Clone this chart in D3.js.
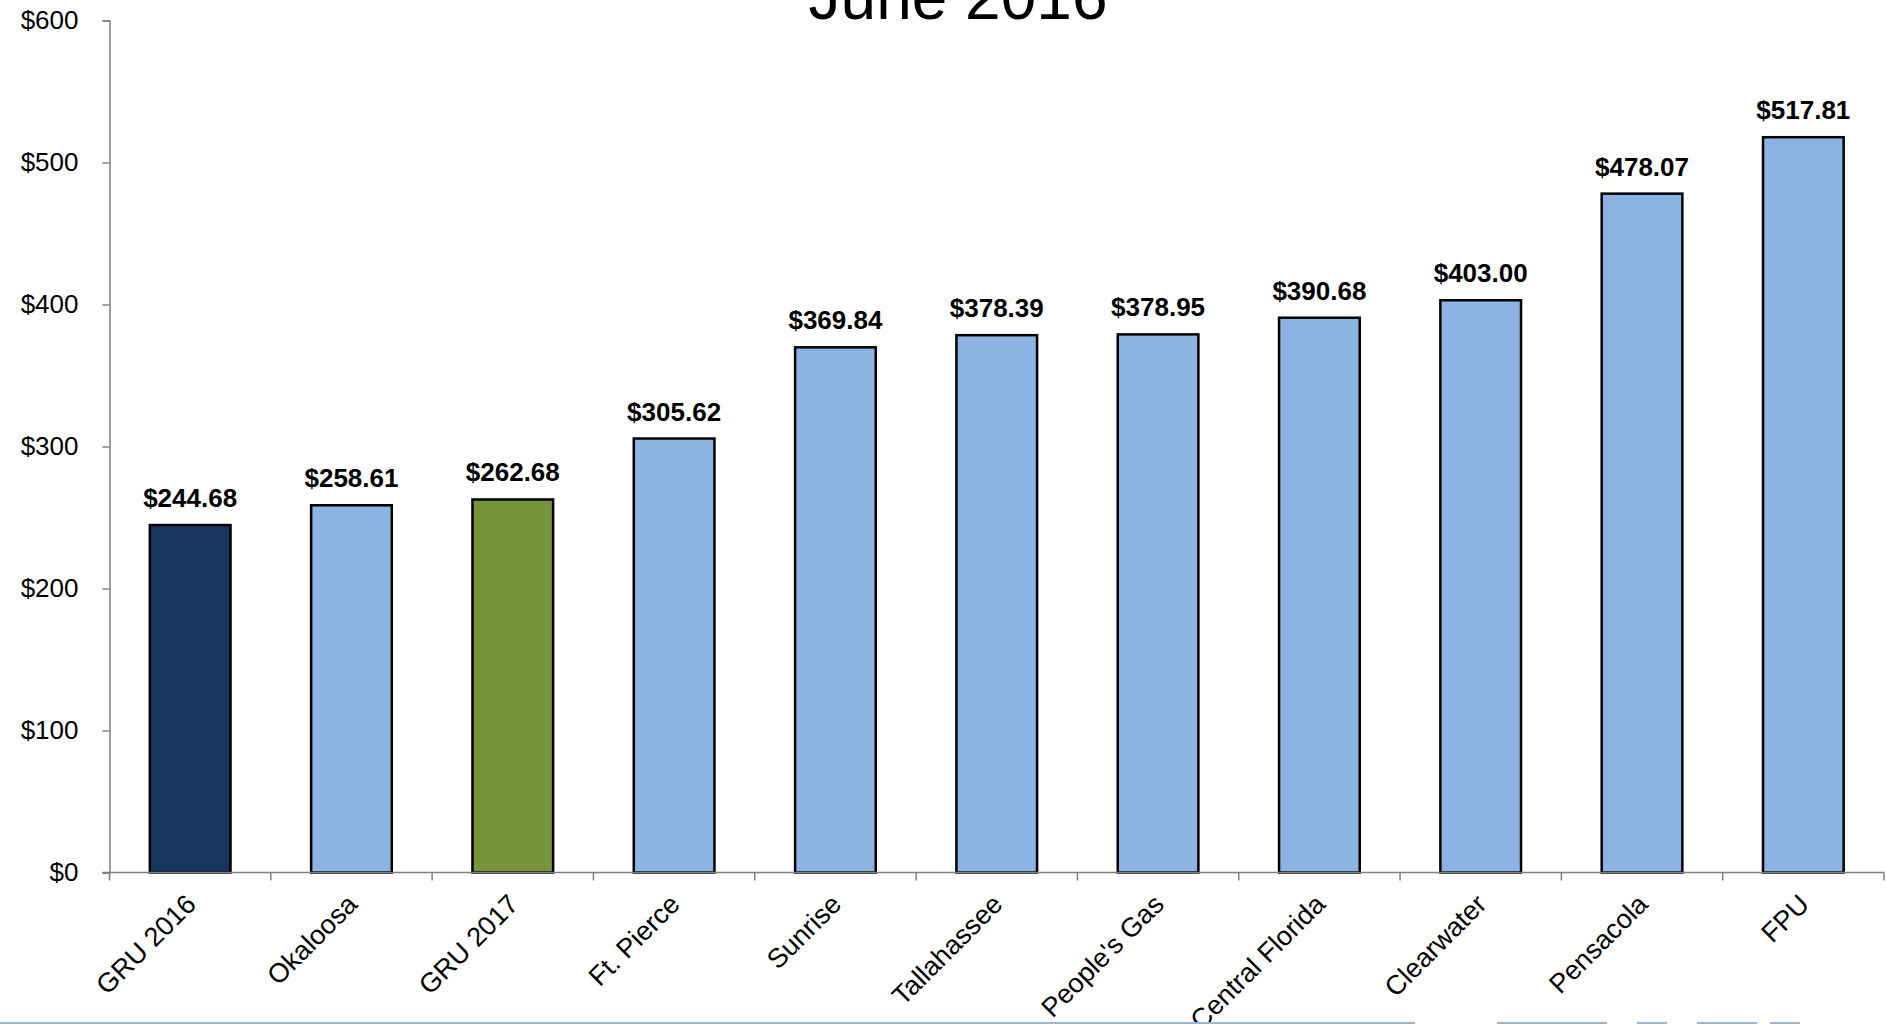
<!DOCTYPE html>
<html>
<head>
<meta charset="utf-8">
<script src="https://cdn.jsdelivr.net/npm/d3@7"></script>
<style>
  body { margin: 0; background: #fff; }
  text { font-family: "Liberation Sans", Arial, sans-serif; }
</style>
</head>
<body>
<svg id="chart" width="1886" height="1024"></svg>
<script>
// chart data
var categories = ['GRU 2016', 'Okaloosa', 'GRU 2017', 'Ft. Pierce', 'Sunrise', 'Tallahassee',
  "People's Gas", 'Central Florida', 'Clearwater', 'Pensacola', 'FPU'];
var values = [244.68, 258.61, 262.68, 305.62, 369.84, 378.39, 378.95, 390.68, 403.00, 478.07, 517.81];
var barColors = ['#17375E', '#8DB3E2', '#77933C', '#8DB3E2', '#8DB3E2', '#8DB3E2',
  '#8DB3E2', '#8DB3E2', '#8DB3E2', '#8DB3E2', '#8DB3E2'];
var yTicks = [0, 100, 200, 300, 400, 500, 600];
var title = 'June 2016';

var svg = d3.select('#chart');
var margin = { left: 109.5, right: 1884, top: 20.5, bottom: 872.5 };

var x = d3.scaleBand()
  .domain(categories)
  .range([margin.left, margin.right])
  .paddingInner(0.5)
  .paddingOuter(0.25);

var y = d3.scaleLinear()
  .domain([0, 600])
  .range([margin.bottom, margin.top]);

// title (partly cut off at the top, like the slide)
svg.append('text')
  .attr('x', 958)
  .attr('y', 19)
  .attr('text-anchor', 'middle')
  .style('font-size', '64px')
  .text(title);

// y axis
var yAxis = svg.append('g')
  .attr('transform', 'translate(' + margin.left + ',0)')
  .call(d3.axisLeft(y).tickValues(yTicks).tickSize(7).tickPadding(24)
    .tickFormat(function (d) { return '$' + d; }));
yAxis.select('.domain').attr('stroke', '#7f7f7f').attr('stroke-width', 1.5);
yAxis.selectAll('.tick line').attr('stroke', '#7f7f7f').attr('stroke-width', 1.5);
yAxis.selectAll('.tick text')
  .attr('fill', '#000')
  .style('font-size', '26px')
  .style('font-family', '"Liberation Sans", Arial, sans-serif');

// bars
svg.selectAll('rect.bar')
  .data(values)
  .enter()
  .append('rect')
  .attr('class', 'bar')
  .attr('x', function (d, i) { return x(categories[i]); })
  .attr('y', function (d) { return y(d); })
  .attr('width', x.bandwidth())
  .attr('height', function (d) { return y(0) - y(d); })
  .attr('fill', function (d, i) { return barColors[i]; })
  .attr('stroke', '#000')
  .attr('stroke-width', 2.5);

// value labels
svg.selectAll('text.value')
  .data(values)
  .enter()
  .append('text')
  .attr('class', 'value')
  .attr('x', function (d, i) { return x(categories[i]) + x.bandwidth() / 2; })
  .attr('y', function (d) { return y(d) - 18; })
  .attr('text-anchor', 'middle')
  .style('font-size', '26px')
  .style('font-weight', 'bold')
  .text(function (d) { return '$' + d.toFixed(2); });

// x axis: line with ticks between the categories
var step = x.step();
var xTickPos = categories.map(function (c) { return x(c) - step * 0.25; }).concat([margin.right]);
svg.append('line')
  .attr('x1', margin.left - 7).attr('x2', margin.right)
  .attr('y1', y(0)).attr('y2', y(0))
  .attr('stroke', '#7f7f7f').attr('stroke-width', 1.5);
svg.selectAll('line.xtick')
  .data(xTickPos)
  .enter()
  .append('line')
  .attr('class', 'xtick')
  .attr('x1', function (d) { return d; }).attr('x2', function (d) { return d; })
  .attr('y1', y(0)).attr('y2', y(0) + 8)
  .attr('stroke', '#7f7f7f').attr('stroke-width', 1.5);

// category labels, rotated
svg.selectAll('text.cat')
  .data(categories)
  .enter()
  .append('text')
  .attr('class', 'cat')
  .attr('text-anchor', 'end')
  .attr('transform', function (d) {
    return 'translate(' + (x(d) + x.bandwidth() / 2 - 6) + ',' + (y(0) + 20) + ') rotate(-45)';
  })
  .attr('dy', '0.7em')
  .style('font-size', '27px')
  .text(function (d) { return d; });

// slide decoration along the bottom edge
var bottomSegments = [[0, 1415], [1497, 1607], [1637, 1667], [1697, 1757], [1770, 1800]];
svg.selectAll('line.deco')
  .data(bottomSegments)
  .enter()
  .append('line')
  .attr('x1', function (d) { return d[0]; }).attr('x2', function (d) { return d[1]; })
  .attr('y1', 1023).attr('y2', 1023)
  .attr('stroke', '#9bb7d4').attr('stroke-width', 2);
</script>
</body>
</html>
